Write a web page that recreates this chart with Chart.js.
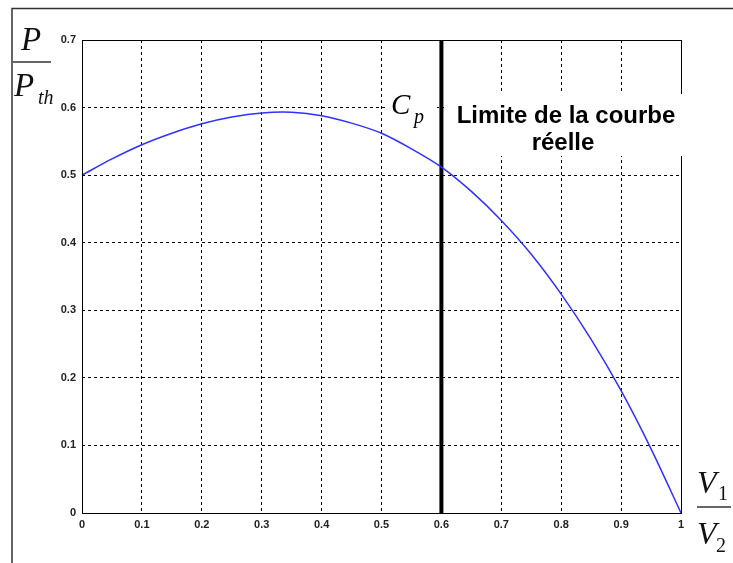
<!DOCTYPE html>
<html lang="fr">
<head>
<meta charset="UTF-8">
<title>P/Pth en fonction de V1/V2</title>
<script src="https://cdn.jsdelivr.net/npm/chart.js@4.4.0/dist/chart.umd.min.js"></script>
<style>
    body { margin: 0; background: #fff; }
    #wrap { width: 733px; height: 563px; }
</style>
</head>
<body>
<div id="wrap"><canvas id="cpChart" width="733" height="563"></canvas></div>
<script>
// valeurs
const ratioV = [0, 0.05, 0.1, 0.15, 0.2, 0.25, 0.3, 0.35, 0.4, 0.45, 0.5, 0.55, 0.6, 0.65, 0.7, 0.75, 0.8, 0.85, 0.9, 0.95, 1];
const ratioP = [0.5, 0.524, 0.545, 0.562, 0.576, 0.586, 0.592, 0.593, 0.588, 0.577, 0.562, 0.539, 0.512, 0.476, 0.433, 0.383, 0.324, 0.257, 0.181, 0.095, 0];
const limitX = 0.6;
const xTickLabels = ['0', '0.1', '0.2', '0.3', '0.4', '0.5', '0.6', '0.7', '0.8', '0.9', '1'];
const yTickLabels = ['0', '0.1', '0.2', '0.3', '0.4', '0.5', '0.6', '0.7'];
const noteLines = ['Limite de la courbe', 'réelle'];

const tickFont = { family: 'Liberation Sans', size: 11, weight: 'bold' };

// cadre, boite du graphe, textes
const decorPlugin = {
    id: 'decor',
    afterDraw(chart) {
        const ctx = chart.ctx;
        const a = chart.chartArea;
        ctx.save();
        // cadre exterieur
        ctx.strokeStyle = '#333';
        ctx.lineWidth = 1.5;
        ctx.beginPath();
        ctx.moveTo(12, 563); ctx.lineTo(12, 8.5); ctx.lineTo(733, 8.5);
        ctx.stroke();
        // boite du graphe
        ctx.strokeStyle = '#000';
        ctx.lineWidth = 1;
        ctx.strokeRect(a.left + 0.5, a.top + 0.5, a.right - a.left, a.bottom - a.top);

        // fonds blancs sous les textes
        ctx.fillStyle = '#fff';
        ctx.fillRect(444, 94, 242, 62);
        ctx.fillRect(386, 84, 51, 46);

        // texte de la limite
        ctx.fillStyle = '#000';
        ctx.font = 'bold 24px "Liberation Sans", Arial, sans-serif';
        ctx.textAlign = 'center';
        ctx.textBaseline = 'alphabetic';
        ctx.fillText(noteLines[0], 566, 123);
        ctx.fillText(noteLines[1], 563, 150);

        // C_p
        ctx.textAlign = 'left';
        ctx.font = 'italic 29px "Liberation Serif", "Times New Roman", serif';
        ctx.fillText('C', 391, 114);
        ctx.font = 'italic 20px "Liberation Serif", "Times New Roman", serif';
        ctx.fillText('p', 414, 123);

        // axe y : P / Pth
        ctx.fillStyle = '#111';
        ctx.font = 'italic 33px "Liberation Serif", "Times New Roman", serif';
        ctx.fillText('P', 21, 50);
        ctx.fillText('P', 14, 96);
        ctx.font = 'italic 20px "Liberation Serif", "Times New Roman", serif';
        ctx.fillText('th', 38, 104);
        ctx.strokeStyle = '#666';
        ctx.lineWidth = 2;
        ctx.beginPath(); ctx.moveTo(12, 62); ctx.lineTo(51, 62); ctx.stroke();

        // axe x : V1 / V2
        ctx.font = 'italic 32px "Liberation Serif", "Times New Roman", serif';
        ctx.fillText('V', 697, 493);
        ctx.fillText('V', 697, 544);
        ctx.font = '20px "Liberation Serif", "Times New Roman", serif';
        ctx.fillText('1', 718, 500);
        ctx.fillText('2', 716, 552);
        ctx.beginPath(); ctx.moveTo(697, 507); ctx.lineTo(731, 507); ctx.stroke();
        ctx.restore();
    }
};

const ctx = document.getElementById('cpChart').getContext('2d');
new Chart(ctx, {
    type: 'scatter',
    data: {
        datasets: [{
            label: 'P/Pth',
            data: ratioV.map((v, i) => ({ x: v, y: ratioP[i] })),
            showLine: true,
            borderColor: '#3030ff',
            borderWidth: 1.5,
            pointRadius: 0,
            tension: 0.3
        }, {
            label: 'limite',
            data: [{ x: limitX, y: 0 }, { x: limitX, y: 0.7 }],
            showLine: true,
            borderColor: '#000',
            borderWidth: 4,
            pointRadius: 0,
            clip: false
        }]
    },
    options: {
        responsive: false,
        animation: false,
        layout: { padding: { left: 0, top: 40, right: 52, bottom: 0 } },
        plugins: { legend: { display: false }, tooltip: { enabled: false } },
        scales: {
            x: {
                type: 'linear',
                min: 0, max: 1,
                afterFit(scale) { scale.height = 50; },
                ticks: {
                    stepSize: 0.1,
                    padding: 5,
                    color: '#222',
                    font: tickFont,
                    maxRotation: 0,
                    callback: (v, i) => xTickLabels[i]
                },
                grid: { color: '#000', lineWidth: 1, drawTicks: false },
                border: { display: false, dash: [3, 3] }
            },
            y: {
                type: 'linear',
                min: 0, max: 0.7,
                afterFit(scale) { scale.width = 82; },
                ticks: {
                    stepSize: 0.1,
                    padding: 6,
                    color: '#222',
                    font: tickFont,
                    callback: (v, i) => yTickLabels[i]
                },
                grid: { color: '#000', lineWidth: 1, drawTicks: false },
                border: { display: false, dash: [3, 3] }
            }
        }
    },
    plugins: [decorPlugin]
});
</script>
</body>
</html>
